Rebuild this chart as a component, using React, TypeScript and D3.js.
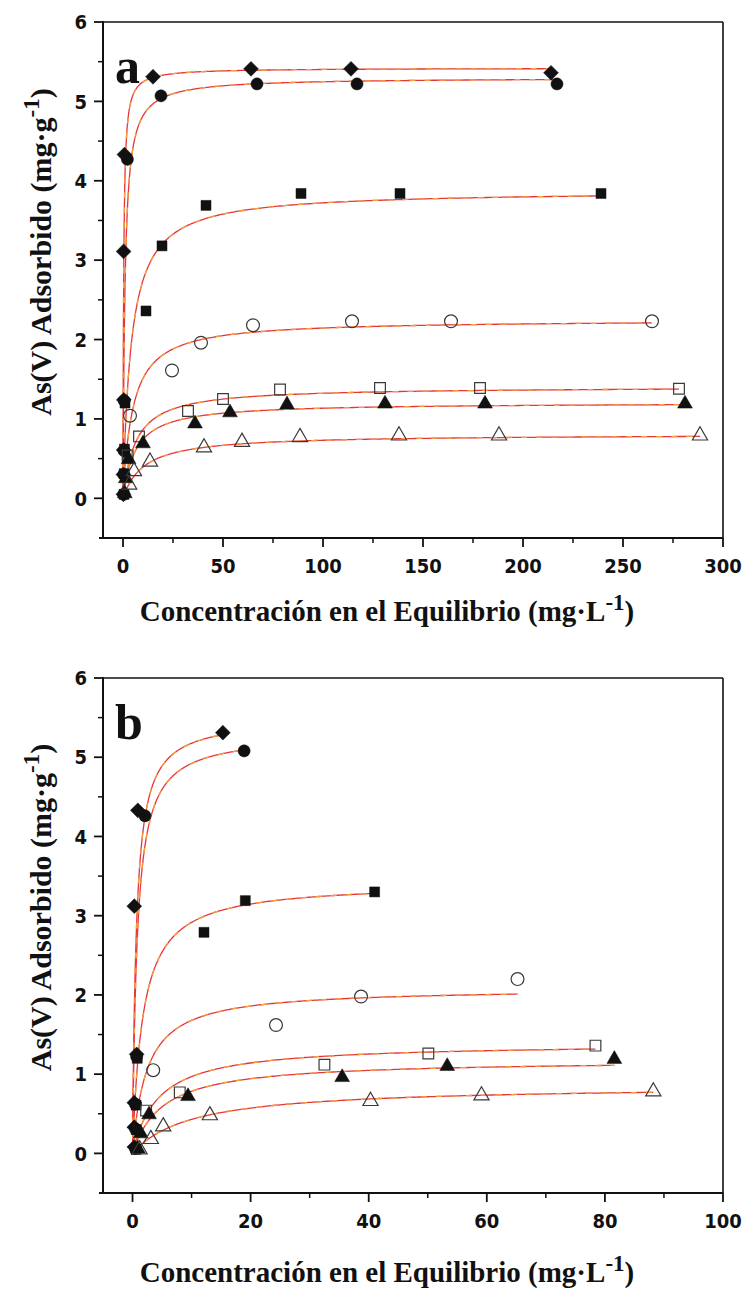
import * as d3 from 'd3';

// ---- data ----
type Pt = [number, number];

// panel a: x = equilibrium concentration (mg/L), y = As(V) adsorbed (mg/g)
const aDiamond: Pt[] = [[0.2, 0.05], [0.2, 0.3], [0.3, 0.61], [0.4, 1.24], [0.3, 3.11], [0.7, 4.33], [15, 5.31], [64, 5.41], [114, 5.41], [214, 5.36]];
const aCircle: Pt[] = [[0.4, 0.05], [0.4, 0.3], [0.5, 0.6], [0.6, 1.23], [2.2, 4.27], [19, 5.07], [67, 5.22], [117, 5.22], [217, 5.22]];
const aSquare: Pt[] = [[0.5, 0.05], [0.6, 0.31], [0.7, 0.62], [1, 1.2], [11.5, 2.36], [19.5, 3.18], [41.5, 3.69], [89, 3.84], [138.5, 3.84], [239, 3.84]];
const aOpenCircle: Pt[] = [[3.5, 1.04], [24.5, 1.61], [39, 1.96], [65, 2.18], [114.5, 2.23], [164, 2.23], [264.5, 2.23]];
const aOpenSquare: Pt[] = [[2.3, 0.54], [8, 0.78], [32.5, 1.1], [50, 1.25], [78.5, 1.37], [128.5, 1.39], [178.5, 1.39], [278, 1.38]];
const aTriangle: Pt[] = [[0.9, 0.06], [1.4, 0.25], [2.8, 0.49], [10, 0.69], [36, 0.94], [53.5, 1.08], [82, 1.18], [131, 1.19], [181, 1.19], [281, 1.19]];
const aOpenTriangle: Pt[] = [[3.1, 0.17], [5.5, 0.34], [13.5, 0.46], [40.5, 0.64], [59.5, 0.71], [88.5, 0.77], [138, 0.79], [188, 0.79], [288.5, 0.79]];

// panel b
const bDiamond: Pt[] = [[0.3, 0.08], [0.3, 0.33], [0.3, 0.64], [0.7, 1.25], [0.3, 3.12], [0.9, 4.33], [15.3, 5.31]];
const bCircle: Pt[] = [[0.5, 0.06], [0.5, 0.31], [0.5, 0.62], [0.7, 1.22], [2.1, 4.26], [18.9, 5.08]];
const bSquare: Pt[] = [[0.6, 0.05], [0.6, 0.3], [0.6, 0.61], [0.8, 1.2], [12.1, 2.79], [19.1, 3.19], [41, 3.3]];
const bOpenCircle: Pt[] = [[3.5, 1.05], [24.3, 1.62], [38.7, 1.98], [65.2, 2.2]];
const bOpenSquare: Pt[] = [[2.3, 0.54], [8, 0.77], [32.5, 1.12], [50.1, 1.26], [78.4, 1.36]];
const bTriangle: Pt[] = [[0.9, 0.06], [1.4, 0.25], [2.8, 0.49], [9.4, 0.72], [35.5, 0.96], [53.3, 1.1], [81.6, 1.19]];
const bOpenTriangle: Pt[] = [[1.2, 0.05], [3.1, 0.18], [5.2, 0.34], [13.1, 0.48], [40.3, 0.66], [59.1, 0.73], [88.2, 0.78]];

// Langmuir fit curves, [qmax, K] per series, in the order diamond, circle, square, open circle, open square, triangle, open triangle
const aFits: Pt[] = [[5.42, 3], [5.3, 1.0], [3.875, 0.243], [2.25, 0.204], [1.406, 0.16], [1.206, 0.16], [0.808, 0.095]];
const bFits: Pt[] = [[5.5, 1.6], [5.3, 1.3], [3.42, 0.578], [2.085, 0.413], [1.39, 0.23], [1.18, 0.198], [0.858, 0.1]];

const aXTicks = [0, 50, 100, 150, 200, 250, 300];
const bXTicks = [0, 20, 40, 60, 80, 100];
const yTicks = [0, 1, 2, 3, 4, 5, 6];

const markerKinds = ['diamond', 'circle', 'square', 'openCircle', 'openSquare', 'triangle', 'openTriangle'];

const serif = "'Liberation Serif', 'Times New Roman', serif";
const sansNarrow = "'Liberation Sans Narrow', 'DejaVu Sans Condensed', 'Liberation Sans', Arial, sans-serif";

const marker = (kind: string, x: number, y: number, key: string) => {
  const open = kind.startsWith('open');
  const fill = open ? 'none' : '#111';
  const stroke = open ? '#3a3a3a' : '#111';
  let path = '';
  let rot = 0;
  if (kind === 'diamond') {
    path = d3.symbol().type(d3.symbolSquare).size(110)()!;
    rot = 45;
  } else if (kind.toLowerCase().includes('circle')) {
    path = d3.symbol().type(d3.symbolCircle).size(open ? 130 : 115)()!;
  } else if (kind.toLowerCase().includes('square')) {
    path = d3.symbol().type(d3.symbolSquare).size(open ? 115 : 100)()!;
  } else {
    path = d3.symbol().type(d3.symbolTriangle).size(open ? 100 : 95)()!;
  }
  return (
    <path
      key={key}
      d={path}
      transform={`translate(${x},${y}) rotate(${rot})`}
      fill={fill}
      stroke={stroke}
      strokeWidth={open ? 1.2 : 0.5}
    />
  );
};

const Panel = ({ series, fits, xDomain, xTicks, top, bottom, letter, titleY }) => {
  const left = 103;
  const right = 723;
  const x = d3.scaleLinear().domain(xDomain).range([left, right]);
  const y = d3.scaleLinear().domain([-0.5, 6]).range([bottom, top]);
  const line = d3
    .line<Pt>()
    .x((d) => x(d[0]))
    .y((d) => y(d[1]));

  const minorX = xTicks.slice(1).map((t, i) => (t + xTicks[i]) / 2);
  const minorY = yTicks.slice(1).map((t, i) => (t + yTicks[i]) / 2);

  const curves = series.map((pts: Pt[], i: number) => {
    const [q, k] = fits[i];
    const end = d3.max(pts, (d) => d[0]) as number;
    // dense sampling near zero where the isotherm is steep
    const samples: Pt[] = d3.range(0, 301).map((j) => {
      const c = end * Math.pow(j / 300, 3);
      return [c, (q * k * c) / (1 + k * c)];
    });
    return line(samples) as string;
  });

  return (
    <g>
      {/* frame */}
      <line x1={left} x2={right} y1={top} y2={top} stroke="#111" strokeWidth={1.6} />
      <line x1={right} x2={right} y1={top} y2={bottom} stroke="#111" strokeWidth={1.6} />
      <line x1={left} x2={left} y1={top - 1} y2={bottom + 1} stroke="#111" strokeWidth={2} />
      <line x1={left - 4} x2={right} y1={bottom} y2={bottom} stroke="#111" strokeWidth={2} />

      {/* y ticks */}
      {yTicks.map((t) => (
        <g key={'y' + t}>
          <line x1={left - 9} x2={left} y1={y(t)} y2={y(t)} stroke="#111" strokeWidth={1.8} />
          <text
            x={left - 16}
            y={y(t)}
            dy="0.36em"
            textAnchor="end"
            fontFamily={sansNarrow}
            fontWeight="bold"
            fontSize={20}
            fill="#111"
          >
            {t}
          </text>
        </g>
      ))}
      {minorY.map((t) => (
        <line key={'ym' + t} x1={left - 5} x2={left} y1={y(t)} y2={y(t)} stroke="#111" strokeWidth={1.5} />
      ))}

      {/* x ticks */}
      {xTicks.map((t) => (
        <g key={'x' + t}>
          <line x1={x(t)} x2={x(t)} y1={bottom} y2={bottom + 9} stroke="#111" strokeWidth={1.8} />
          <text
            x={x(t)}
            y={bottom + 35}
            textAnchor="middle"
            fontFamily={sansNarrow}
            fontWeight="bold"
            fontSize={20}
            fill="#111"
          >
            {t}
          </text>
        </g>
      ))}
      {minorX.map((t) => (
        <line key={'xm' + t} x1={x(t)} x2={x(t)} y1={bottom} y2={bottom + 5} stroke="#111" strokeWidth={1.5} />
      ))}

      {/* fitted curves: red with an orange dashed overlay */}
      {curves.map((d, i) => (
        <g key={'c' + i}>
          <path d={d} fill="none" stroke="#e8343c" strokeWidth={1.3} />
          <path d={d} fill="none" stroke="#f2a03a" strokeWidth={1.3} strokeDasharray="6 9" />
        </g>
      ))}

      {/* markers */}
      {series.map((pts: Pt[], i: number) =>
        pts.map((p, j) => marker(markerKinds[i], x(p[0]), y(p[1]), `m${i}-${j}`))
      )}

      {/* panel letter */}
      <text x={115} y={top + 61} fontFamily={serif} fontWeight="bold" fontSize={50} fill="#111">
        {letter}
      </text>

      {/* axis titles */}
      <text
        x={387}
        y={titleY}
        textAnchor="middle"
        fontFamily={serif}
        fontWeight="bold"
        fontSize={29}
        fill="#111"
      >
        Concentración en el Equilibrio (mg·L
        <tspan dy={-11} fontSize={23}>-1</tspan>
        <tspan dy={11}>)</tspan>
      </text>
      <text
        transform={`translate(51,${(top + bottom) / 2 - 28}) rotate(-90)`}
        textAnchor="middle"
        fontFamily={serif}
        fontWeight="bold"
        fontSize={30}
        fill="#111"
      >
        As(V) Adsorbido (mg·g
        <tspan dy={-12} fontSize={23}>-1</tspan>
        <tspan dy={12}>)</tspan>
      </text>
    </g>
  );
};

export default function App() {
  return (
    <svg
      width={743}
      height={1297}
      style={{ position: 'absolute', left: 0, top: 0, background: '#fff' }}
    >
      <rect width={743} height={1297} fill="#fff" />
      <Panel
        series={[aDiamond, aCircle, aSquare, aOpenCircle, aOpenSquare, aTriangle, aOpenTriangle]}
        fits={aFits}
        xDomain={[-10, 300]}
        xTicks={aXTicks}
        top={22}
        bottom={538}
        letter="a"
        titleY={621}
      />
      <Panel
        series={[bDiamond, bCircle, bSquare, bOpenCircle, bOpenSquare, bTriangle, bOpenTriangle]}
        fits={bFits}
        xDomain={[-5, 100]}
        xTicks={bXTicks}
        top={678}
        bottom={1193}
        letter="b"
        titleY={1282}
      />
    </svg>
  );
}
